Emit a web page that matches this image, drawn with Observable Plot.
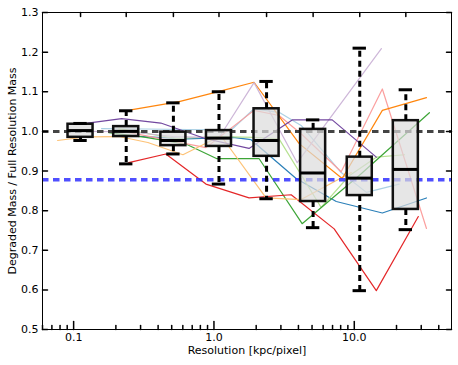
<!DOCTYPE html>
<html><head><meta charset="utf-8">
<script src="https://cdn.jsdelivr.net/npm/d3@7"></script>
<script src="https://cdn.jsdelivr.net/npm/@observablehq/plot@0.6"></script>
<style>body{margin:0;background:#fff}</style>
</head><body><div id="chart"></div>
<script>
// Box plot summaries at each degraded resolution (kpc/pixel)
const boxPositions = [0.112, 0.237, 0.514, 1.086, 2.371, 5.09, 10.94, 23.3];
const boxLow    = [0.977, 0.918, 0.943, 0.867, 0.830, 0.757, 0.598, 0.752];
const boxQ1     = [0.985, 0.987, 0.964, 0.962, 0.937, 0.823, 0.838, 0.803];
const boxMedian = [1.002, 1.000, 0.977, 0.983, 0.977, 0.895, 0.882, 0.904];
const boxQ3     = [1.018, 1.012, 0.998, 1.002, 1.057, 1.005, 0.935, 1.027];
const boxHigh   = [1.020, 1.052, 1.072, 1.100, 1.126, 1.029, 1.210, 1.105];

// Individual galaxy tracks
const lightBlueX = [0.158, 0.327, 1.322, 1.93, 2.91, 4.18, 8.07, 12.2, 20.9];
const lightBlueY = [1.007, 1.006, 1.003, 1.057, 1.048, 1.015, 0.896, 0.846, 0.867];
const blueX = [0.247, 0.631, 1.367, 1.837, 3.85, 7.44, 15.85, 32.7];
const blueY = [0.989, 0.981, 0.985, 0.979, 0.881, 0.823, 0.794, 0.832];
const lightGreenX = [0.21, 0.535, 1.086, 1.93, 2.91, 5.81, 9.2, 14.35, 22.8];
const lightGreenY = [1.007, 0.982, 0.987, 0.985, 0.981, 0.808, 0.888, 0.935, 0.941];
const greenX = [0.178, 0.327, 0.631, 1.05, 2.1, 4.25, 11.2, 34.3];
const greenY = [0.997, 0.985, 0.968, 0.931, 0.931, 0.767, 0.893, 1.047];
const pinkX = [0.242, 0.877, 1.93, 2.91, 4.18, 8.07, 15.85, 32.7];
const pinkY = [0.998, 0.959, 1.053, 1.040, 0.994, 0.898, 1.107, 0.755];
const redX = [0.247, 0.454, 0.877, 1.778, 3.55, 7.19, 14.35, 28.6];
const redY = [0.921, 0.943, 0.867, 0.832, 0.840, 0.754, 0.598, 0.785];
const lightOrangeX = [0.0769, 0.122, 0.21, 0.338, 0.601, 1.122, 2.35, 4.18, 9.52];
const lightOrangeY = [0.977, 0.986, 0.987, 0.972, 0.941, 0.989, 0.832, 0.828, 0.896];
const orangeX = [0.262, 0.565, 1.091, 1.93, 4.05, 8.2, 15.85, 32.7];
const orangeY = [1.055, 1.075, 1.101, 1.124, 0.969, 0.881, 1.053, 1.085];
const lightPurpleX = [0.126, 0.247, 0.509, 1.086, 1.93, 3.92, 15.6];
const lightPurpleY = [1.000, 0.999, 0.987, 0.984, 1.123, 0.921, 1.209];
const purpleX = [0.126, 0.22, 0.418, 0.863, 1.778, 3.61, 6.96, 14.35];
const purpleY = [1.021, 1.032, 1.021, 0.982, 0.957, 1.029, 1.029, 0.935];

const seriesX = [lightBlueX, blueX, lightGreenX, greenX, pinkX, redX, lightOrangeX, orangeX, lightPurpleX, purpleX];
const seriesY = [lightBlueY, blueY, lightGreenY, greenY, pinkY, redY, lightOrangeY, orangeY, lightPurpleY, purpleY];
const seriesColors = ["#a6cee3","#1f78b4","#b2df8a","#33a02c","#fb9a99","#e31a1c","#fdbf6f","#ff7f00","#cab2d6","#6a3d9a"];

const referenceLevels = [1.0];
const meanLevel = [0.878];

const yTicks = [0.5, 0.6, 0.7, 0.8, 0.9, 1.0, 1.1, 1.2, 1.3];
const xMajorTicks = [0.1, 1, 10];
const xMajorLabels = ["0.1", "1.0", "10.0"];
const xMinorTicks = [0.06,0.07,0.08,0.09,0.2,0.3,0.4,0.5,0.6,0.7,0.8,0.9,2,3,4,5,6,7,8,9,20,30,40];

const xTitle = "Resolution [kpc/pixel]";
const yTitle = "Degraded Mass / Full Resolution Mass";

const boxes = boxPositions.map((p, i) => ({pos: p, lo: boxLow[i], q1: boxQ1[i], med: boxMedian[i], q3: boxQ3[i], hi: boxHigh[i]}));
const BW = 1.228, CW = 1.116;

const tickShape = {draw(ctx, l) { ctx.moveTo(0, 0); ctx.lineTo(0, -l); }};

const lineMarks = seriesX.map((xs, s) =>
  Plot.line(xs.map((x, i) => ({x, y: seriesY[s][i]})), {x: "x", y: "y", stroke: seriesColors[s], strokeWidth: 1.2, strokeOpacity: 0.95})
);

const chart = Plot.plot({
  width: 458, height: 365,
  marginLeft: 42, marginRight: 7, marginTop: 12, marginBottom: 36,
  x: {type: "log", domain: [0.06, 49.3]},
  y: {domain: [0.5, 1.3]},
  style: {fontFamily: "DejaVu Sans", fontSize: "11px", background: "white", color: "black"},
  marks: [
    ...lineMarks,
    Plot.ruleY(referenceLevels, {stroke: "#444", strokeWidth: 3, strokeDasharray: "6.5,4.5"}),
    Plot.ruleY(meanLevel, {stroke: "#3030ff", strokeOpacity: 0.85, strokeWidth: 3.5, strokeDasharray: "6.5,4.5"}),
    Plot.rect(boxes, {x1: d => d.pos / BW, x2: d => d.pos * BW, y1: "q1", y2: "q3", fill: "#dcdcdc", fillOpacity: 0.7, stroke: "#111", strokeWidth: 2.5}),
    Plot.ruleX(boxes, {x: "pos", y1: "q3", y2: "hi", stroke: "black", strokeWidth: 3, strokeDasharray: "6,4"}),
    Plot.ruleX(boxes, {x: "pos", y1: "q1", y2: "lo", stroke: "black", strokeWidth: 3, strokeDasharray: "6,4"}),
    Plot.ruleY(boxes, {y: "hi", x1: d => d.pos / CW, x2: d => d.pos * CW, stroke: "black", strokeWidth: 3}),
    Plot.ruleY(boxes, {y: "lo", x1: d => d.pos / CW, x2: d => d.pos * CW, stroke: "black", strokeWidth: 3}),
    Plot.ruleY(boxes, {y: "med", x1: d => d.pos / BW, x2: d => d.pos * BW, stroke: "black", strokeWidth: 3}),
    Plot.frame({stroke: "black", strokeWidth: 1}),
    // inward ticks
    Plot.vector(xMajorTicks, {x: d => d, frameAnchor: "bottom", length: 8, rotate: 0, anchor: "start", shape: tickShape, stroke: "black"}),
    Plot.vector(xMinorTicks, {x: d => d, frameAnchor: "bottom", length: 4, rotate: 0, anchor: "start", shape: tickShape, stroke: "black"}),
    Plot.vector(boxPositions, {x: d => d, frameAnchor: "top", length: 4, rotate: 180, anchor: "start", shape: tickShape, stroke: "black"}),
    Plot.vector(yTicks, {y: d => d, frameAnchor: "left", length: 5, rotate: 90, anchor: "start", shape: tickShape, stroke: "black"}),
    Plot.vector(yTicks, {y: d => d, frameAnchor: "right", length: 5, rotate: -90, anchor: "start", shape: tickShape, stroke: "black"}),
    Plot.axisY({ticks: yTicks, tickSize: 0, tickPadding: 4, tickFormat: d3.format(".1f"), label: null, fontSize: 11}),
    Plot.axisX({ticks: xMajorTicks, tickSize: 0, tickPadding: 4, tickFormat: d => xMajorLabels[xMajorTicks.indexOf(d)], label: null, fontSize: 11}),
    Plot.text([xTitle], {frameAnchor: "bottom", dy: 24, text: d => d, fontSize: 11, textAnchor: "middle"}),
    Plot.text([yTitle], {frameAnchor: "left", dx: -30, rotate: -90, text: d => d, fontSize: 11, textAnchor: "middle"})
  ]
});
document.getElementById("chart").append(chart);
</script>
</body></html>
